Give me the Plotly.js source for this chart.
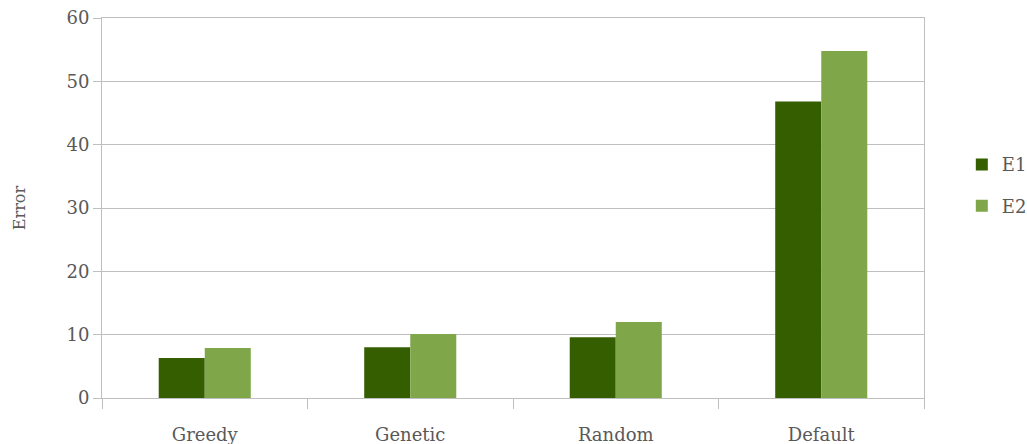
<!DOCTYPE html>
<html>
<head>
<meta charset="utf-8">
<script src="https://cdn.plot.ly/plotly-3.0.1.min.js"></script>
<style>
  html, body { margin: 0; padding: 0; background: #fff; }
  #chart { width: 1027px; height: 444px; }
</style>
</head>
<body>
<div id="chart"></div>
<script>
// Error per optimisation strategy, for the two experiments
const categories = ["Greedy", "Genetic", "Random", "Default"];
const e1Values = [6.3, 8.0, 9.6, 46.8];
const e2Values = [7.9, 10.1, 12.0, 54.8];
const yTicks = [0, 10, 20, 30, 40, 50, 60];

const textColor = "#595959";
const lineColor = "#bfbfbf";
const fontFamily = "DejaVu Serif, Liberation Serif, serif";

const traces = [
  { type: "bar", name: "E1", x: categories, y: e1Values,
    marker: { color: "#355e00" }, legendgroup: "e1" },
  { type: "bar", name: "E2", x: categories, y: e2Values,
    marker: { color: "#7fa74a" }, legendgroup: "e2" }
];

const layout = {
  width: 1027, height: 444,
  margin: { l: 102, r: 103, t: 18, b: 46, autoexpand: false },
  paper_bgcolor: "#fff", plot_bgcolor: "#fff",
  font: { family: fontFamily, size: 18, color: textColor },
  barmode: "group",
  bargap: 0.552,
  bargroupgap: 0,
  showlegend: true,
  legend: {
    x: 1.046, xanchor: "left", y: 0.56, yanchor: "middle",
    font: { family: fontFamily, size: 18, color: textColor },
    tracegroupgap: 15,
    itemwidth: 30
  },
  xaxis: {
    type: "category",
    showline: true, linecolor: lineColor, linewidth: 1, mirror: true,
    ticks: "outside", tickson: "boundaries", ticklen: 10, tickcolor: lineColor,
    ticklabelstandoff: 20,
    showgrid: false,
    tickfont: { family: fontFamily, size: 18, color: textColor }
  },
  yaxis: {
    range: [0, 60],
    tickvals: yTicks,
    ticktext: yTicks.map(String),
    showline: true, linecolor: lineColor, linewidth: 1, mirror: true,
    ticks: "outside", ticklen: 8, tickcolor: lineColor,
    showgrid: true, gridcolor: lineColor, gridwidth: 1,
    zeroline: false,
    tickfont: { family: fontFamily, size: 18, color: textColor },
    title: { text: "Error", standoff: 36, font: { family: fontFamily, size: 16, color: textColor } }
  }
};

Plotly.newPlot("chart", traces, layout, { displayModeBar: false, staticPlot: true });
</script>
</body>
</html>
